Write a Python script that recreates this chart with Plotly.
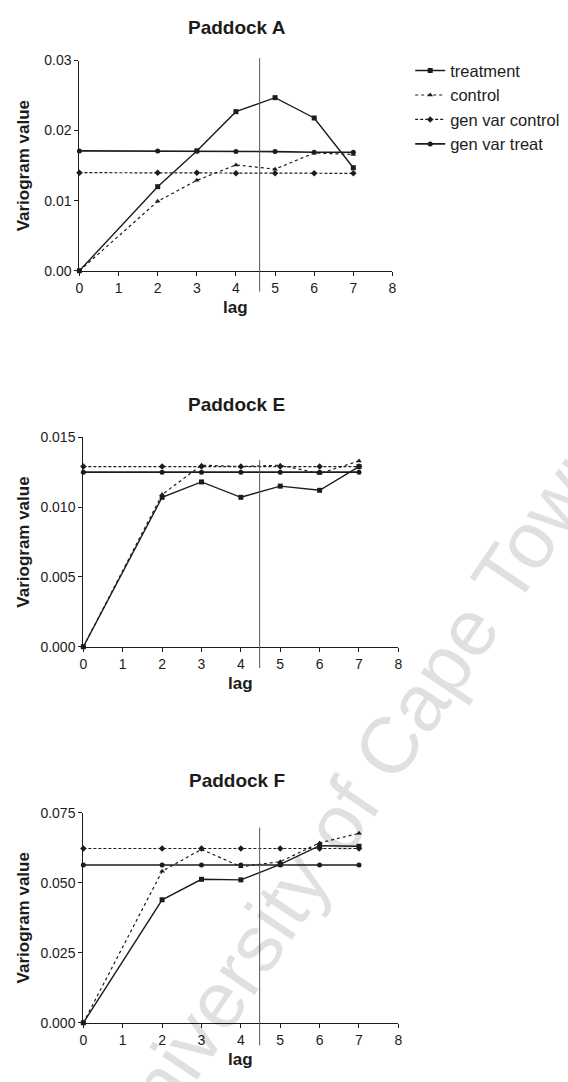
import plotly.graph_objects as go

W, H = 568, 1082

lags = [0, 2, 3, 4, 5, 6, 7]

# Paddock A
a_treatment = [0.0, 0.0120, 0.0171, 0.0227, 0.0247, 0.0218, 0.0147]
a_control = [0.0, 0.0099, 0.0129, 0.0151, 0.0145, 0.0168, 0.0166]
a_genvar_control = [0.0140, 0.0140, 0.0140, 0.0139, 0.0139, 0.0139, 0.0139]
a_genvar_treat = [0.0171, 0.0171, 0.0171, 0.0170, 0.0170, 0.0169, 0.0169]

# Paddock E
e_treatment = [0.0, 0.0107, 0.0118, 0.0107, 0.0115, 0.0112, 0.0129]
e_control = [0.0, 0.0109, 0.0130, 0.0129, 0.0130, 0.0124, 0.0133]
e_genvar_control = [0.0129, 0.0129, 0.0129, 0.0129, 0.0129, 0.0129, 0.0129]
e_genvar_treat = [0.0125, 0.0125, 0.0125, 0.0125, 0.0125, 0.0125, 0.0125]

# Paddock F
f_treatment = [0.0, 0.0439, 0.0512, 0.0510, 0.0565, 0.0632, 0.0630]
f_control = [0.0, 0.0541, 0.0619, 0.0557, 0.0575, 0.0642, 0.0676]
f_genvar_control = [0.0622, 0.0622, 0.0622, 0.0622, 0.0622, 0.0622, 0.0622]
f_genvar_treat = [0.0563, 0.0563, 0.0563, 0.0563, 0.0563, 0.0563, 0.0563]

panels = [
    ("Paddock A", a_treatment, a_control, a_genvar_control, a_genvar_treat, [0, 0.03], 0.01, ".2f"),
    ("Paddock E", e_treatment, e_control, e_genvar_control, e_genvar_treat, [0, 0.015], 0.005, ".3f"),
    ("Paddock F", f_treatment, f_control, f_genvar_control, f_genvar_treat, [0, 0.075], 0.025, ".3f"),
]

series_names = ["treatment", "control", "gen var control", "gen var treat"]
INK = "#1c1c1c"
styles = {
    "treatment": dict(line=dict(color=INK, width=1.4, dash="solid"),
                      marker=dict(symbol="square", size=5, color=INK)),
    "control": dict(line=dict(color=INK, width=1.2, dash="dot"),
                    marker=dict(symbol="triangle-up", size=5, color=INK)),
    "gen var control": dict(line=dict(color=INK, width=1.2, dash="3px,2px"),
                            marker=dict(symbol="diamond", size=5, color=INK)),
    "gen var treat": dict(line=dict(color=INK, width=1.6, dash="solid"),
                          marker=dict(symbol="circle", size=5, color=INK)),
}

# pixel geometry of each panel: x0, x1 (lag 0..8), ytop, ybottom
geo = [
    (76.5, 394.0, 53.3, 266.7),
    (80.5, 400.0, 435.7, 648.3),
    (80.5, 400.0, 816.7, 1030.0),
]

fig = go.Figure()
layout = {}
FONT = "Liberation Sans, Arial, sans-serif"
annotations = []
shapes = []

# watermark (drawn first so it sits under the other annotations)
annotations.append(dict(text="University of Cape Town", xref="paper", yref="paper",
                        x=356 / W, y=1 - 800 / H, showarrow=False, textangle=-56,
                        xanchor="center", yanchor="middle",
                        font=dict(family=FONT, size=80, color="rgba(0,0,0,0.12)")))

for i, (title, tr, co, gc, gt, yr, dt, fmt) in enumerate(panels):
    idx = "" if i == 0 else str(i + 1)
    xa, ya = "x" + idx, "y" + idx
    for name, vals in zip(series_names, [tr, co, gc, gt]):
        fig.add_trace(go.Scatter(
            x=lags, y=vals, mode="lines+markers", name=name,
            xaxis=xa, yaxis=ya, cliponaxis=False,
            showlegend=(i == 0), legendgroup=name,
            **styles[name]))
    x0, x1, yt, yb = geo[i]
    layout["xaxis" + idx] = dict(
        domain=[x0 / W, x1 / W], range=[0, 8], anchor=ya,
        tickmode="linear", tick0=0, dtick=1,
        showline=True, linecolor=INK, linewidth=1.2,
        ticks="outside", ticklen=4, tickcolor=INK,
        showgrid=False, zeroline=False,
        tickfont=dict(family=FONT, size=14, color=INK))
    layout["yaxis" + idx] = dict(
        domain=[1 - yb / H, 1 - yt / H], range=yr, anchor=xa,
        tickmode="linear", tick0=0, dtick=dt, tickformat=fmt,
        showline=True, linecolor=INK, linewidth=1.2,
        ticks="outside", ticklen=4, tickcolor=INK,
        showgrid=False, zeroline=False,
        tickfont=dict(family=FONT, size=14, color=INK))
    # panel title
    annotations.append(dict(text="<b>" + title + "</b>", xref="paper", yref="paper",
                            x=236 / W, y=1 - (yt - 33) / H, showarrow=False,
                            xanchor="center", yanchor="middle",
                            font=dict(family=FONT, size=19, color=INK)))
    # x axis title
    annotations.append(dict(text="<b>lag</b>", xref="paper", yref="paper",
                            x=((x0 + x1) / 2) / W, y=1 - (yb + 37) / H, showarrow=False,
                            xanchor="center", yanchor="middle",
                            font=dict(family=FONT, size=17, color=INK)))
    # y axis title
    annotations.append(dict(text="<b>Variogram value</b>", xref="paper", yref="paper",
                            x=20 / W, y=1 - ((yt + yb) / 2) / H, showarrow=False,
                            textangle=-90, xanchor="center", yanchor="middle",
                            font=dict(family=FONT, size=17, color=INK)))

# thin vertical scan line crossing each panel
for (top, bot) in [(51, 288), (459, 670), (832, 1053)]:
    shapes.append(dict(type="line", xref="paper", yref="paper",
                       x0=259.3 / W, x1=259.3 / W, y0=1 - bot / H, y1=1 - top / H,
                       line=dict(color="#555555", width=1)))

fig.update_layout(
    width=W, height=H, margin=dict(l=0, r=0, t=0, b=0),
    paper_bgcolor="white", plot_bgcolor="white",
    showlegend=True,
    legend=dict(x=412 / W, y=1 - 46 / H, xanchor="left", yanchor="top",
                bgcolor="rgba(0,0,0,0)", itemwidth=30,
                font=dict(family=FONT, size=16.5, color=INK),
                tracegroupgap=0),
    annotations=annotations, shapes=shapes,
    **layout)

fig.write_html("out.html")
